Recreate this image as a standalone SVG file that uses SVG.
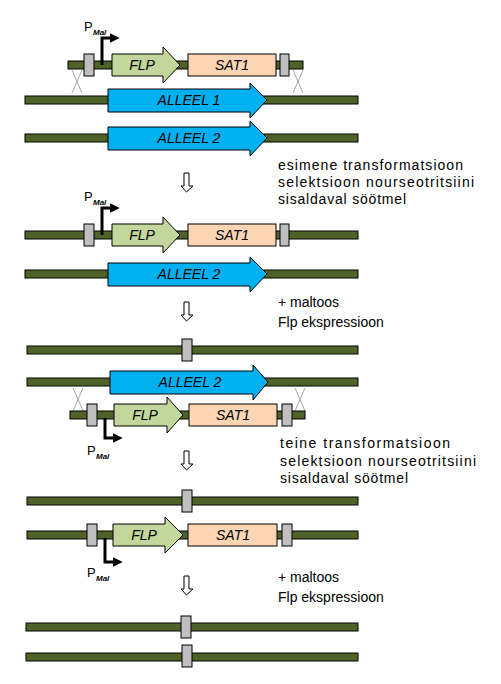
<svg xmlns="http://www.w3.org/2000/svg" width="501" height="684" viewBox="0 0 501 684">
<style>
.chr{fill:#4f6228;stroke:#000;stroke-width:1}
.gb{fill:#bfbfbf;stroke:#000;stroke-width:1}
.flp{fill:#c3d69b;stroke:#000;stroke-width:1}
.sat{fill:#fcd5b5;stroke:#000;stroke-width:1}
.al{fill:#00b0f0;stroke:#000;stroke-width:1}
.lbl{font-family:"Liberation Sans",Arial,sans-serif;font-style:italic;font-size:14px;fill:#000;text-anchor:middle}
.side{font-family:"Liberation Sans",Arial,sans-serif;font-size:14px;fill:#000}
.p{font-family:"Liberation Sans",Arial,sans-serif;font-size:13px;fill:#000}
.sub{font-family:"Liberation Sans",Arial,sans-serif;font-size:8px;font-weight:bold;font-style:italic;fill:#000}
.prom{fill:none;stroke:#000;stroke-width:3}
.x{fill:none;stroke:#a6a6a6;stroke-width:1}
.down{fill:#fff;stroke:#000;stroke-width:1}
</style>
<defs>
<marker id="ah" viewBox="0 0 10 10" refX="2" refY="5" markerWidth="3.2" markerHeight="3.2" orient="auto"><path d="M0,0L10,5L0,10z" fill="#000"/></marker>
</defs>

<g id="connectors">
<path class="x" d="M72,70L82,93M82,70L72,93"/>
<path class="x" d="M293,70L303,93M303,70L293,93"/>
<path class="x" d="M73,388L83,411M83,388L73,411"/>
<path class="x" d="M295,388L305,411M305,388L295,411"/>
<polygon class="down" points="184,173 189,173 189,186 193,186 186.5,192 181,186 184,186"/>
<polygon class="down" points="184,302 189,302 189,315 193,315 186.5,321 181,315 184,315"/>
<polygon class="down" points="184,451 189,451 189,464 193,464 186.5,470 181,464 184,464"/>
<polygon class="down" points="184,576 189,576 189,589 193,589 186.5,595 181,589 184,589"/>
</g>

<g id="construct1">
<rect class="chr" x="68" y="61" width="235" height="8"/>
<rect class="gb" x="84" y="54" width="10" height="22"/>
<rect class="gb" x="280" y="54" width="9" height="22"/>
<polygon class="flp" points="112,54 163,54 163,47 180,65 163,83 163,76 112,76"/>
<rect class="sat" x="188" y="54" width="88" height="22"/>
<text class="lbl" x="142" y="70">FLP</text>
<text class="lbl" x="232" y="70">SAT1</text>
<path class="prom" d="M102,65V38H112" marker-end="url(#ah)"/>
<text class="p" x="84" y="31">P</text><text class="sub" x="93" y="35">Mal</text>
</g>

<g id="alleel1">
<rect class="chr" x="25" y="96" width="333" height="8"/>
<polygon class="al" points="108,89 250,89 250,83 267,100 250,118 250,112 108,112"/>
<text class="lbl" x="189" y="105">ALLEEL 1</text>
</g>

<g id="alleel2a">
<rect class="chr" x="25" y="134" width="333" height="8"/>
<polygon class="al" points="108,127 250,127 250,121 267,138 250,156 250,150 108,150"/>
<text class="lbl" x="189" y="143">ALLEEL 2</text>
</g>

<g id="text1">
<text class="side" x="278" y="170" textLength="185">esimene transformatsioon</text>
<text class="side" x="278" y="187" textLength="196">selektsioon nourseotritsiini</text>
<text class="side" x="278" y="204" textLength="128">sisaldaval söötmel</text>
</g>

<g id="construct2">
<rect class="chr" x="25" y="231" width="333" height="8"/>
<rect class="gb" x="84" y="224" width="10" height="22"/>
<rect class="gb" x="280" y="224" width="9" height="22"/>
<polygon class="flp" points="112,224 163,224 163,217 180,235 163,253 163,246 112,246"/>
<rect class="sat" x="188" y="224" width="88" height="22"/>
<text class="lbl" x="142" y="240">FLP</text>
<text class="lbl" x="232" y="240">SAT1</text>
<path class="prom" d="M102,235V208H112" marker-end="url(#ah)"/>
<text class="p" x="84" y="201">P</text><text class="sub" x="93" y="205">Mal</text>
</g>

<g id="alleel2b">
<rect class="chr" x="25" y="270" width="333" height="8"/>
<polygon class="al" points="108,263 250,263 250,257 267,274 250,292 250,286 108,286"/>
<text class="lbl" x="189" y="279">ALLEEL 2</text>
</g>

<g id="text2">
<text class="side" x="278" y="307">+ maltoos</text>
<text class="side" x="278" y="327">Flp ekspressioon</text>
</g>

<g id="frt1">
<rect class="chr" x="27" y="346" width="331" height="8"/>
<rect class="gb" x="182" y="339" width="10" height="22"/>
</g>

<g id="alleel2c">
<rect class="chr" x="27" y="378" width="331" height="8"/>
<polygon class="al" points="110,371 253,371 253,365 268,382 253,400 253,394 110,394"/>
<text class="lbl" x="190" y="387">ALLEEL 2</text>
</g>

<g id="construct3">
<rect class="chr" x="70" y="411" width="235" height="8"/>
<rect class="gb" x="87" y="404" width="10" height="22"/>
<rect class="gb" x="282" y="404" width="10" height="22"/>
<polygon class="flp" points="114,404 167,404 167,397 183,415 167,433 167,426 114,426"/>
<rect class="sat" x="189" y="404" width="88" height="22"/>
<text class="lbl" x="145" y="420">FLP</text>
<text class="lbl" x="233" y="420">SAT1</text>
<path class="prom" d="M105,418V438H115" marker-end="url(#ah)"/>
<text class="p" x="87" y="455">P</text><text class="sub" x="96" y="459">Mal</text>
</g>

<g id="text3">
<text class="side" x="280" y="448" textLength="170">teine transformatsioon</text>
<text class="side" x="280" y="466" textLength="196">selektsioon nourseotritsiini</text>
<text class="side" x="280" y="483" textLength="128">sisaldaval söötmel</text>
</g>

<g id="frt2">
<rect class="chr" x="27" y="497" width="331" height="8"/>
<rect class="gb" x="182" y="490" width="10" height="22"/>
</g>

<g id="construct4">
<rect class="chr" x="27" y="531" width="331" height="8"/>
<rect class="gb" x="87" y="524" width="10" height="22"/>
<rect class="gb" x="282" y="524" width="10" height="22"/>
<polygon class="flp" points="113,524 165,524 165,517 183,535 165,553 165,546 113,546"/>
<rect class="sat" x="188" y="524" width="89" height="22"/>
<text class="lbl" x="144" y="540">FLP</text>
<text class="lbl" x="233" y="540">SAT1</text>
<path class="prom" d="M105,538V562H115" marker-end="url(#ah)"/>
<text class="p" x="87" y="577">P</text><text class="sub" x="96" y="581">Mal</text>
</g>

<g id="text4">
<text class="side" x="278" y="582">+ maltoos</text>
<text class="side" x="278" y="602">Flp ekspressioon</text>
</g>

<g id="frt3">
<rect class="chr" x="26" y="623" width="332" height="8"/>
<rect class="gb" x="181" y="616" width="10" height="22"/>
</g>

<g id="frt4">
<rect class="chr" x="26" y="653" width="332" height="8"/>
<rect class="gb" x="182" y="645" width="10" height="22"/>
</g>
</svg>
